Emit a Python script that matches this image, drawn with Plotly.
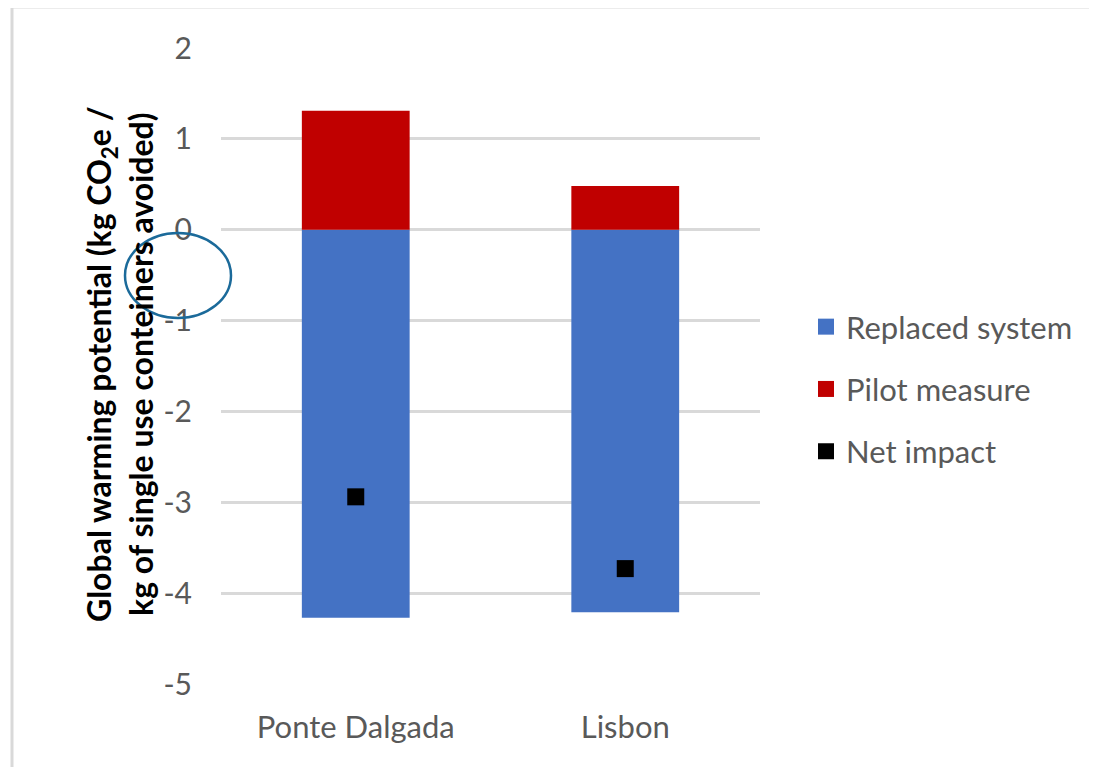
import plotly.graph_objects as go

categories = ["Ponte Dalgada", "Lisbon"]
replaced_system = [-4.27, -4.21]
pilot_measure = [1.31, 0.48]
net_impact = [-2.94, -3.73]
y_ticks = [2, 1, 0, -1, -2, -3, -4, -5]
y_tick_text = ["2", "1", "0", "-1", "-2", "-3", "-4", "-5"]

BLUE = "#4472C4"
RED = "#C00000"
GRAY_TEXT = "#595959"
GRID = "#D9D9D9"

# page has an 8px body margin; plot area spans px x 221-760, y 48-684 in the screenshot
OFF = 8
L, T = 221 - OFF, 48 - OFF
PW, PH = 539, 636
W, H = 1097 - OFF, 767 - OFF
R = W - L - PW
B = H - T - PH


def px_x(p):
    return (p - OFF - L) / PW


def px_y(p):
    return (T + PH - (p - OFF)) / PH


fig = go.Figure()
fig.add_trace(go.Bar(x=categories, y=replaced_system, name="Replaced system",
                     marker=dict(color=BLUE, line=dict(width=0)), width=0.4, showlegend=False))
fig.add_trace(go.Bar(x=categories, y=pilot_measure, name="Pilot measure",
                     marker=dict(color=RED, line=dict(width=0)), width=0.4, showlegend=False))
fig.add_trace(go.Scatter(x=categories, y=net_impact, mode="markers", name="Net impact",
                         marker=dict(symbol="square", size=17, color="black"), showlegend=False))

# legend entries
for nm, col in [("Replaced system", BLUE), ("Pilot measure", RED), ("Net impact", "black")]:
    fig.add_trace(go.Scatter(x=[None], y=[None], mode="markers", name=nm, legendgroup=nm,
                             marker=dict(symbol="square", size=16, color=col)))

fig.update_layout(
    width=W, height=H,
    margin=dict(l=L, r=R, t=T, b=B, pad=0),
    paper_bgcolor="white", plot_bgcolor="white",
    barmode="relative",
    font=dict(family="Lato", color=GRAY_TEXT, size=29),
    showlegend=True,
    legend=dict(x=px_x(806), xanchor="left", y=px_y(389), yanchor="middle",
                font=dict(size=31, color=GRAY_TEXT, family="Lato"),
                traceorder="grouped", tracegroupgap=19, itemwidth=30,
                bgcolor="rgba(0,0,0,0)"),
    xaxis=dict(showgrid=False, showline=False, zeroline=False, ticks="",
               tickfont=dict(size=31, color=GRAY_TEXT), ticklabelstandoff=22),
    yaxis=dict(range=[-5, 2], tickvals=y_ticks, ticktext=y_tick_text,
               showgrid=True, gridcolor=GRID, gridwidth=2.5,
               zeroline=False, showline=False, ticks="",
               tickfont=dict(size=30, color=GRAY_TEXT), ticklabelstandoff=28),
)

fig.add_annotation(
    text="Global warming potential (kg CO<sub>2</sub>e /<br>kg of single use conteiners avoided)",
    xref="paper", yref="paper", x=px_x(119), y=px_y(364), xanchor="center", yanchor="middle",
    textangle=-90, showarrow=False,
    font=dict(family="Lato", size=32, color="black", weight="bold"),
)

# frame lines
fig.add_shape(type="line", xref="paper", yref="paper", x0=px_x(12), x1=px_x(1097),
              y0=px_y(7), y1=px_y(7), line=dict(color=GRID, width=3))
fig.add_shape(type="line", xref="paper", yref="paper", x0=px_x(12), x1=px_x(12),
              y0=px_y(7), y1=px_y(767), line=dict(color=GRID, width=3))
# highlight ellipse
fig.add_shape(type="circle", xref="paper", yref="paper", x0=px_x(125), x1=px_x(231),
              y0=px_y(318), y1=px_y(233), line=dict(color="#1B6A9A", width=2.5))

fig.write_html("out.html")
